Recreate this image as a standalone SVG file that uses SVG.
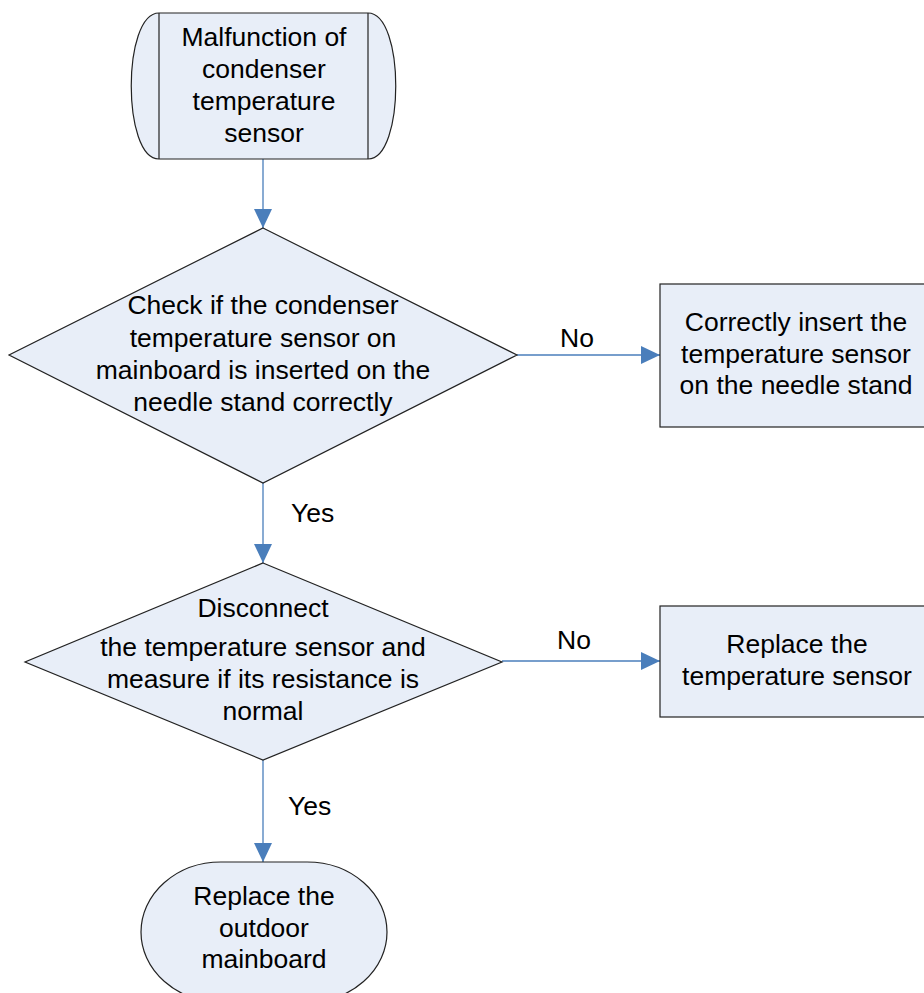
<svg xmlns="http://www.w3.org/2000/svg" width="924" height="993" viewBox="0 0 924 993">
<style>
.shape{fill:#e8eef8;stroke:#222;stroke-width:1.2}
.lbl{font-family:"Liberation Sans",Arial,sans-serif;font-size:26.5px;fill:#000;text-anchor:middle}
.edge{font-family:"Liberation Sans",Arial,sans-serif;font-size:26.5px;fill:#000}
.conn{stroke:#4a7ebb;stroke-width:1.3;fill:none;marker-end:url(#arr)}
</style>
<defs>
<marker id="arr" markerUnits="userSpaceOnUse" markerWidth="19" markerHeight="19" viewBox="0 0 19 18" refX="19" refY="9" orient="auto">
<path d="M0,0 L19,9 L0,18 Z" fill="#4a7ebb"/>
</marker>
</defs>
<rect width="924" height="993" fill="#fff"/>
<g id="connectors">
<line class="conn" x1="263" y1="159" x2="263" y2="228"/>
<line class="conn" x1="263" y1="483" x2="263" y2="563"/>
<line class="conn" x1="263" y1="760" x2="263" y2="862"/>
<line class="conn" x1="517" y1="355" x2="660" y2="355"/>
<line class="conn" x1="502" y1="661" x2="660" y2="661"/>
<text class="edge" x="560" y="347">No</text>
<text class="edge" x="557" y="649">No</text>
<text class="edge" x="291" y="522">Yes</text>
<text class="edge" x="288" y="815">Yes</text>
</g>
<g id="start">
<path class="shape" d="M159,13 L368,13 C405,13 405,159 368,159 L159,159 C122,159 122,13 159,13 Z"/>
<line x1="159" y1="13" x2="159" y2="159" stroke="#222" stroke-width="1.2"/>
<line x1="368" y1="13" x2="368" y2="159" stroke="#222" stroke-width="1.2"/>
<text class="lbl" x="264" y="46">Malfunction of</text>
<text class="lbl" x="264" y="78">condenser</text>
<text class="lbl" x="264" y="110">temperature</text>
<text class="lbl" x="264" y="142">sensor</text>
</g>
<g id="decision1">
<polygon class="shape" points="263,228 517,355 263,483 9,355"/>
<text class="lbl" x="263" y="314">Check if the condenser</text>
<text class="lbl" x="263" y="346.5">temperature sensor on</text>
<text class="lbl" x="263" y="379">mainboard is inserted on the</text>
<text class="lbl" x="263" y="411">needle stand correctly</text>
</g>
<g id="insert">
<rect class="shape" x="660" y="284" width="272" height="143"/>
<text class="lbl" x="796" y="331">Correctly insert the</text>
<text class="lbl" x="796" y="362.5">temperature sensor</text>
<text class="lbl" x="796" y="394">on the needle stand</text>
</g>
<g id="decision2">
<polygon class="shape" points="263,563 502,662 263,760 25,662"/>
<text class="lbl" x="263" y="617">Disconnect</text>
<text class="lbl" x="263" y="656">the temperature sensor and</text>
<text class="lbl" x="263" y="688">measure if its resistance is</text>
<text class="lbl" x="263" y="720">normal</text>
</g>
<g id="replace-sensor">
<rect class="shape" x="660" y="606" width="272" height="111"/>
<text class="lbl" x="797" y="653">Replace the</text>
<text class="lbl" x="797" y="685">temperature sensor</text>
</g>
<g id="end">
<rect class="shape" x="141" y="862" width="246" height="140" rx="80" ry="70"/>
<text class="lbl" x="264" y="905">Replace the</text>
<text class="lbl" x="264" y="937">outdoor</text>
<text class="lbl" x="264" y="968">mainboard</text>
</g>
</svg>
